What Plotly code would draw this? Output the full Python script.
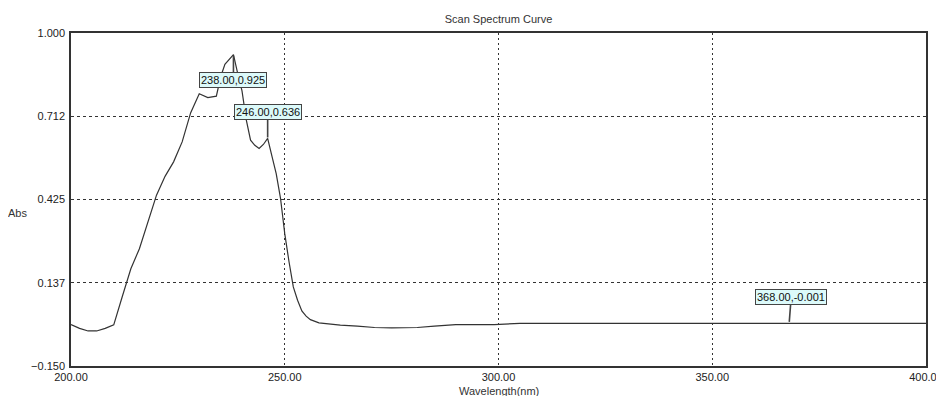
import plotly.graph_objects as go

# Wavelength (nm) and absorbance
wavelength = [200, 202, 204, 206, 208, 210, 212, 214, 216, 218, 220, 222, 224, 226, 228,
              230, 232, 234, 235, 236, 237, 238, 239, 240, 241, 242, 243, 244, 245, 246,
              247, 248, 249, 250, 251, 252, 253, 254, 255, 256, 258, 260, 263, 267, 271,
              275, 281, 285, 290, 299, 305, 320, 340, 360, 366, 368, 370, 380, 390, 400]
absorbance = [-0.007, -0.020, -0.029, -0.029, -0.020, -0.008, 0.090, 0.186, 0.255, 0.345,
              0.440, 0.505, 0.555, 0.624, 0.725, 0.790, 0.777, 0.782, 0.848, 0.892, 0.910,
              0.925, 0.860, 0.800, 0.700, 0.630, 0.612, 0.601, 0.615, 0.636, 0.575, 0.514,
              0.430, 0.307, 0.210, 0.123, 0.077, 0.040, 0.022, 0.010, -0.001, -0.004,
              -0.009, -0.012, -0.017, -0.018, -0.017, -0.012, -0.007, -0.007, -0.003,
              -0.003, -0.003, -0.003, -0.003, -0.001, -0.003, -0.003, -0.003, -0.003]

# Marked peaks: (wavelength, absorbance, label, offset x px, offset y px)
mark_x = [238, 246, 368]
mark_y = [0.925, 0.636, -0.001]
mark_text = ["238.00,0.925", "246.00,0.636", "368.00,-0.001"]
mark_ax = [0, 0, 2]
mark_ay = [25, -26, -26]

x_ticks = [200, 250, 300, 350, 400]
y_ticks = [-0.150, 0.137, 0.425, 0.712, 1.000]

FONT = "Liberation Sans, Arial, sans-serif"

fig = go.Figure()
fig.add_trace(go.Scatter(
    x=wavelength, y=absorbance, mode="lines",
    line=dict(color="#333333", width=1.2),
    hoverinfo="x+y", showlegend=False,
))

for x, y, t, ax, ay in zip(mark_x, mark_y, mark_text, mark_ax, mark_ay):
    fig.add_annotation(
        x=x, y=y, xref="x", yref="y", text=t,
        showarrow=True, arrowhead=0, arrowwidth=1.6, arrowcolor="#444444",
        ax=ax, ay=ay, standoff=1,
        bgcolor="#dcfafa", bordercolor="#444444", borderwidth=1, borderpad=1,
        font=dict(family=FONT, size=11, color="#111111"),
    )

fig.add_annotation(
    x=-0.063, y=0.459, xref="paper", yref="paper", text="Abs", showarrow=False,
    xanchor="center", yanchor="middle",
    font=dict(family=FONT, size=11, color="#333333"),
)
fig.add_annotation(
    x=0.5, y=-0.074, xref="paper", yref="paper", text="Wavelength(nm)", showarrow=False,
    xanchor="center", yanchor="middle",
    font=dict(family=FONT, size=11, color="#333333"),
)

# page body adds an 8px margin, so the figure is sized to fill the rest
fig.update_layout(
    width=936, height=388,
    margin=dict(l=63, r=18, t=25, b=30, autoexpand=False),
    paper_bgcolor="white", plot_bgcolor="white",
    title=dict(text="Scan Spectrum Curve", x=0.5, xref="paper", y=0.9716, yref="container",
               xanchor="center", yanchor="middle", automargin=False,
               font=dict(family=FONT, size=11, color="#333333")),
    font=dict(family=FONT, size=11, color="#222222"),
)
fig.update_xaxes(
    range=[200, 400], tickvals=x_ticks, tickformat=".2f", ticks="",
    showgrid=True, gridcolor="#333333", gridwidth=1, griddash="2px,3px",
    showline=True, linecolor="#333333", linewidth=1.5, mirror=True,
    zeroline=False, ticklabelstandoff=0, automargin=False,
)
fig.update_yaxes(
    range=[-0.150, 1.000], tickvals=y_ticks, tickformat=".3f", ticks="",
    showgrid=True, gridcolor="#333333", gridwidth=1, griddash="3px,3px",
    showline=True, linecolor="#333333", linewidth=1.5, mirror=True,
    zeroline=False, ticklabelstandoff=2, automargin=False,
)

fig.write_html("out.html")
